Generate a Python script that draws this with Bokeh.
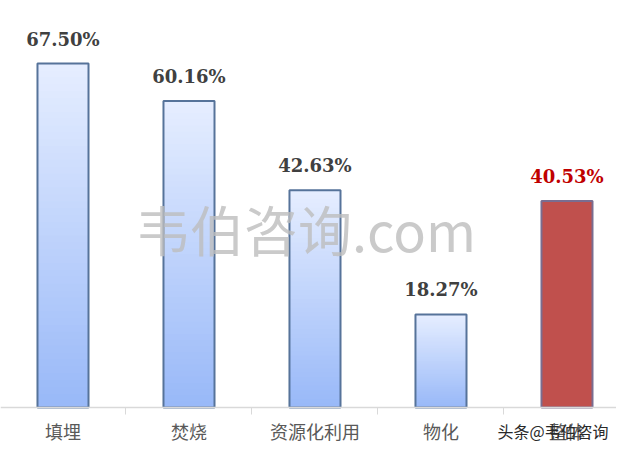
from bokeh.plotting import figure
from bokeh.models import ColumnDataSource, FixedTicker, Range1d, Label
from bokeh.embed import file_html
from bokeh.resources import INLINE

categories = ["填埋", "焚烧", "资源化利用", "物化", "整体"]
values = [67.50, 60.16, 42.63, 18.27, 40.53]
value_labels = ["67.50%", "60.16%", "42.63%", "18.27%", "40.53%"]
highlight = [False, False, False, False, True]

xs = [i + 0.5 for i in range(len(categories))]

p = figure(width=616, height=443, output_backend="svg", toolbar_location=None,
           x_range=Range1d(0.004, 4.893), y_range=Range1d(-7.06, 79.87),
           min_border=0)
p.outline_line_color = None
p.grid.visible = False
p.yaxis.visible = False
p.background_fill_color = "white"
p.border_fill_color = "white"


def hex2rgb(h):
    h = h.lstrip("#")
    return tuple(int(h[i:i + 2], 16) for i in (0, 2, 4))


top_c = hex2rgb("#E6EEFF")
bot_c = hex2rgb("#98B8F8")
N = 50

gx, gb, gt, gc = [], [], [], []
for x, v, hl in zip(xs, values, highlight):
    if hl:
        gx.append(x); gb.append(0); gt.append(v); gc.append("#C0504D")
        continue
    for k in range(N):
        f = (k + 0.5) / N
        c = tuple(int(round(bot_c[j] + (top_c[j] - bot_c[j]) * f)) for j in range(3))
        gx.append(x)
        gb.append(v * k / N)
        gt.append(min(v, v * (k + 2) / N))
        gc.append("#%02x%02x%02x" % c)

grad = ColumnDataSource(dict(x=gx, bottom=gb, top=gt, color=gc))
p.vbar(x="x", bottom="bottom", top="top", width=0.405, fill_color="color",
       line_color=None, source=grad)

src = ColumnDataSource(dict(
    x=xs, top=values, label=value_labels,
    outline=["#7A6D90" if h else "#56739A" for h in highlight],
    tcolor=["#C00000" if h else "#404040" for h in highlight],
))
p.vbar(x="x", top="top", width=0.405, fill_color=None, line_color="outline",
       line_width=2, source=src)

p.text(x="x", y="top", text="label", source=src, text_align="center",
       text_baseline="bottom", y_offset=-14, text_color="tcolor",
       text_font_size="18px", text_font={"value": "DejaVu Serif"},
       text_font_style="bold")

ax = p.xaxis[0]
ax.fixed_location = 0
ax.ticker = FixedTicker(ticks=xs, minor_ticks=list(range(len(categories) + 1)))
ax.major_label_overrides = {x: c for x, c in zip(xs, categories)}
ax.major_tick_line_color = None
ax.major_tick_out = 0
ax.major_tick_in = 0
ax.minor_tick_line_color = "#D9D9D9"
ax.minor_tick_out = 7
ax.minor_tick_in = 0
ax.axis_line_color = "#D9D9D9"
ax.axis_line_width = 1.5
ax.major_label_standoff = 3
ax.major_label_text_font = "Noto Sans CJK SC"
ax.major_label_text_font_size = "18px"
ax.major_label_text_color = "#595959"

wm = Label(x=2.425, y=35.1, text="韦伯咨询.com", text_align="center",
           text_baseline="middle", text_font="Noto Sans CJK SC",
           text_font_size="54px", text_color="#BDBDBD", text_alpha=0.8)
p.add_layout(wm)

wm2 = Label(x=3.948, y=-4.6, text="头条@韦伯咨询", text_align="left",
            text_baseline="middle", text_font="Noto Sans CJK SC",
            text_font_size="16px", text_color="#2A2A2A")
p.add_layout(wm2)

open("out.html", "w").write(file_html(p, INLINE))
